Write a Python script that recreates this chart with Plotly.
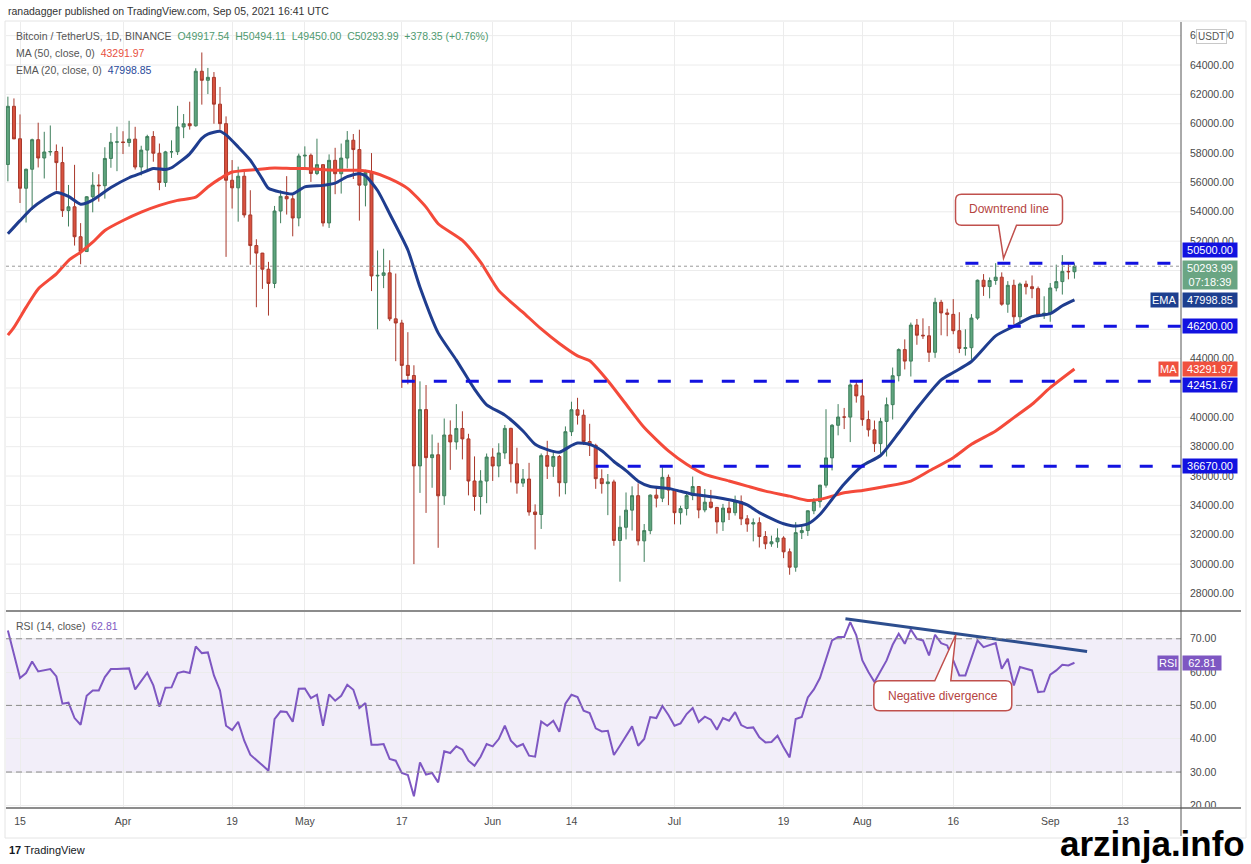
import pandas as pd
import plotly.graph_objects as go
from plotly.subplots import make_subplots

START = "2021-03-13"

# daily candles, Mar 13 .. Sep 05 2021 (BTC/USDT, Binance)
opens = [
    57221, 61188, 58976, 55605, 56900, 58913, 57665, 58075, 58108, 57351, 54083, 54341, 52303, 51293, 55025, 55817, 55778, 57635, 58747,
    58760, 58720, 58950, 57051, 58202, 59129, 57991, 56000, 58082, 58093, 59779, 60000, 59860, 63575, 62959, 63159, 61334, 60006, 56150, 55633,
    56425, 53787, 51701, 51187, 50089, 49121, 54054, 55050, 54885, 53580,
    57800, 57850, 56610, 57213, 53241, 57509, 56593, 57660, 58876, 58240, 55816, 56670, 49631, 49671, 49841, 46708, 46426, 43538, 42849,
    36690, 40527, 37253, 37449, 34655, 38796, 38324, 39241, 38530, 35663, 34606, 35658,
    37293, 36686, 37571, 39247, 36836, 35520, 35797, 33552, 33380, 37389, 36662, 37331, 35546, 39020, 40516, 40144, 38349, 38092, 35820,
    35483, 35600, 31608, 32509, 33678, 34663, 31584, 32283, 34700, 34494, 35911,
    35045, 33504, 33786, 34669, 35286, 33690, 34220, 33862, 32876, 33815, 33502, 34259, 33086, 32730, 32820, 31880, 31383, 31520, 31778,
    30839, 29790, 32144, 32287, 33634, 34258, 35381, 37237, 39457, 40019, 40016, 42206,
    41461, 39845, 39147, 38207, 39723, 40862, 42836, 44614, 43829, 46286, 45595, 45554, 44429, 47834, 47112, 47014, 45902, 44696, 44741,
    46760, 49339, 48905, 49321, 49547, 47707, 48993, 46852, 49078, 48898, 48767, 46970,
    47100, 48811, 49246, 49942, 49917.54,
]
highs = [
    61844, 61724, 60633, 56938, 58982, 60070, 59450, 59880, 58589, 58430, 55830, 57200, 53230, 55073, 56700, 56559, 58400, 59368, 59800,
    59490, 60200, 59791, 58500, 59250, 59495, 58650, 58153, 58869, 61220, 60659, 61500, 63777, 64854, 63800, 63520, 62506, 60499, 57526, 57076,
    56757, 55470, 52130, 51200, 50591, 54400, 55460, 56428, 55195, 57963,
    58458, 57972, 58981, 57214, 57911, 58360, 58650, 59500, 59300, 59592, 56862, 58000, 51367, 51483, 50700, 49795, 46643, 45800, 43546,
    42451, 42200, 38829, 38270, 39920, 39791, 40900, 40411, 38877, 37338, 36400, 37534,
    37896, 38231, 39476, 39289, 37925, 36480, 36900, 34069, 37534, 38400, 37690, 37436, 39380, 41064, 41330, 40527, 39560, 38202, 36457,
    36137, 35750, 33298, 34881, 35298, 35500, 32730, 34749, 35297, 36600, 36100,
    35057, 33977, 34945, 35967, 35293, 35118, 35059, 33900, 34100, 34262, 34666, 34679, 33338, 33114, 33185, 32249, 31940, 32435, 31899,
    31063, 32859, 32591, 33650, 34500, 35398, 40550, 39542, 40900, 40640, 42316, 42448,
    42599, 40459, 39780, 39969, 41350, 43392, 44700, 45310, 46454, 46700, 46743, 46218, 48144, 48000, 47400, 48053, 47160, 46000, 47033,
    49382, 49757, 49526, 50500, 49875, 49277, 49376, 49185, 49309, 49666, 48910, 48246,
    49150, 50400, 51052, 50558, 50494.11,
]
lows = [
    56078, 58966, 54600, 53271, 54123, 57023, 56270, 57820, 55450, 53650, 53000, 51700, 50428, 51280, 53966, 54691, 54900, 57000, 56769,
    57935, 58435, 56880, 56478, 56817, 57413, 55473, 55700, 57670, 57872, 59018, 59600, 59800, 61301, 62021, 60000, 59580, 50931, 54221, 53329,
    53605, 50400, 47500, 48750, 46930, 48800, 53222, 53813, 52330, 53013,
    57052, 56035, 56500, 53000, 52900, 55200, 55241, 56957, 56235, 53400, 54370, 48600, 46000, 48800, 46555, 43825, 42001, 42250, 30000,
    34850, 33488, 35200, 31111, 34031, 36419, 37800, 37134, 34684, 33632, 33379, 34153,
    35667, 35920, 37170, 35566, 34800, 35258, 33300, 31000, 32396, 35800, 35944, 34600, 34757, 38730, 39506, 38116, 37365, 35129, 34803,
    33336, 31251, 28805, 31683, 32286, 31275, 30151, 32040, 33862, 34225, 34017,
    32711, 32699, 33316, 34357, 33125, 33532, 33777, 32077, 32261, 33004, 33307, 32658, 32203, 31550, 31133, 31020, 31180, 31108, 30407,
    29278, 29482, 31708, 31924, 33401, 33851, 35205, 36383, 38772, 39200, 38313, 41000,
    39423, 38690, 37642, 37508, 37332, 39853, 42446, 43261, 42780, 44942, 45341, 43770, 44052, 45590, 45525, 45660, 44376, 44203, 43927,
    46644, 48273, 48102, 49030, 47600, 47122, 46315, 46361, 48370, 48110, 46862, 46700,
    46512, 48584, 48363, 49400, 49450.00,
]
closes = [
    61188, 58968, 55605, 56900, 58913, 57665, 58075, 58108, 57351, 54083, 54341, 52303, 51293, 55025, 55817, 55778, 57635, 58747, 58760,
    58720, 58950, 57051, 58202, 59129, 57991, 56000, 58082, 58093, 59779, 60000, 59860, 63575, 62959, 63160, 61334, 60007, 56150, 55633, 56425,
    53787, 51701, 51187, 50089, 49121, 54054, 55050, 54885, 53580, 57800,
    57850, 56610, 57213, 53241, 57509, 56593, 57660, 58876, 58240, 55816, 56670, 49631, 49671, 49841, 46708, 46426, 43538, 42849, 36690,
    40527, 37253, 37449, 34655, 38796, 38324, 39241, 38530, 35663, 34606, 35658, 37293,
    36686, 37571, 39247, 36836, 35520, 35797, 33552, 33380, 37389, 36662, 37331, 35546, 39020, 40516, 40144, 38349, 38092, 35820, 35483,
    35600, 31608, 32509, 33678, 34663, 31584, 32283, 34700, 34494, 35911, 35045,
    33504, 33786, 34669, 35286, 33690, 34220, 33862, 32876, 33815, 33502, 34259, 33086, 32730, 32820, 31880, 31383, 31520, 31778, 30839,
    29790, 32144, 32287, 33634, 34258, 35381, 37237, 39457, 40019, 40016, 42206, 41461,
    39845, 39147, 38207, 39723, 40862, 42836, 44614, 43829, 46286, 45595, 45554, 44429, 47834, 47112, 47014, 45902, 44696, 44741, 46760,
    49339, 48905, 49321, 49547, 47707, 48993, 46852, 49078, 48898, 48767, 46970, 47100,
    48811, 49246, 49942, 49917.54, 50293.99,
]

rsi = [
    72.5, 65.5, 58.2, 59.7, 63.2, 60.2, 60.6, 60.9, 58.7, 50.5, 50.8, 46.2, 44.2, 52.9, 54.5, 54.5, 58.5, 60.9, 60.9,
    60.9, 61.1, 54.8, 57.2, 59.8, 56.0, 49.6, 55.3, 55.4, 59.7, 60.2, 59.7, 67.7, 65.7, 65.9, 59.0, 54.5, 43.9, 42.6, 45.1,
    39.4, 35.2, 33.7, 32.0, 30.4, 45.9, 48.2, 48.0, 45.1, 55.0,
    55.1, 52.2, 53.2, 43.9, 53.3, 51.4, 52.9, 56.2, 54.7, 49.2, 50.7, 38.2, 38.2, 38.4, 33.9, 33.4, 29.7, 29.1, 22.7,
    32.9, 29.2, 29.7, 26.9, 36.2, 35.7, 37.7, 36.7, 33.4, 31.9, 34.6, 38.4,
    37.7, 39.9, 43.9, 39.4, 37.6, 38.4, 34.9, 34.6, 45.2, 43.9, 45.4, 42.1, 50.5, 53.2, 52.5, 48.4, 47.7, 43.1, 42.2,
    42.4, 35.1, 37.9, 40.9, 43.7, 37.9, 39.9, 46.5, 46.2, 49.8, 47.1,
    43.9, 44.6, 47.4, 49.2, 45.0, 46.6, 45.7, 42.7, 46.2, 45.4, 48.0, 44.1, 43.2, 43.4, 40.4, 38.9, 39.0, 40.9, 37.4,
    34.4, 45.9, 46.5, 52.4, 54.8, 58.2, 64.0, 69.5, 70.5, 70.5, 75.0, 71.0,
    63.5, 60.0, 57.0, 60.2, 63.5, 68.2, 71.5, 68.5, 72.8, 70.0, 69.5, 65.0, 71.2, 68.7, 68.0, 63.5, 59.0, 59.0, 64.2,
    69.5, 67.5, 68.0, 68.7, 61.0, 64.0, 56.0, 61.5, 61.0, 60.5, 54.0, 54.2,
    59.2, 60.5, 62.2, 62.0, 62.81,
]

ema_dates = [
    "2021-03-13", "2021-03-15", "2021-03-17", "2021-03-19", "2021-03-21", "2021-03-23", "2021-03-25", "2021-03-27", "2021-03-30",
    "2021-04-02", "2021-04-04", "2021-04-06", "2021-04-08", "2021-04-09", "2021-04-12", "2021-04-14", "2021-04-15", "2021-04-17",
    "2021-04-18", "2021-04-20", "2021-04-22", "2021-04-24", "2021-04-25", "2021-04-27", "2021-04-29", "2021-05-01", "2021-05-04",
    "2021-05-06", "2021-05-08", "2021-05-10", "2021-05-11", "2021-05-13", "2021-05-15", "2021-05-18", "2021-05-20", "2021-05-23",
    "2021-05-26", "2021-05-29", "2021-05-31", "2021-06-03", "2021-06-06", "2021-06-08", "2021-06-10", "2021-06-12", "2021-06-14",
    "2021-06-15", "2021-06-17", "2021-06-19", "2021-06-21", "2021-06-23", "2021-06-25", "2021-06-27", "2021-06-30", "2021-07-02",
    "2021-07-04", "2021-07-06", "2021-07-08", "2021-07-11", "2021-07-13", "2021-07-15", "2021-07-17", "2021-07-19", "2021-07-21",
    "2021-07-23", "2021-07-25", "2021-07-27", "2021-07-29", "2021-08-01", "2021-08-04", "2021-08-07", "2021-08-10", "2021-08-14",
    "2021-08-16", "2021-08-19", "2021-08-23", "2021-08-26", "2021-08-29", "2021-09-01", "2021-09-03", "2021-09-05",
]
ema_vals = [
    52500, 53400, 54250, 54850, 55320, 55050, 54520, 54800, 55650,
    56320, 56630, 56950, 56880, 57000, 57950, 59000, 59300, 59480,
    59240, 58420, 57520, 56230, 55600, 55340, 55220, 55700, 55800,
    55950, 56390, 56600, 56450, 55450, 53870, 51400, 48860, 45750,
    43900, 41920, 40850, 40150, 39070, 38160, 37800, 37620, 38080,
    38250, 38160, 37730, 36990, 36370, 35650, 35290, 35160, 34960,
    34760, 34650, 34540, 34300, 34030, 33510, 33100, 32750, 32590,
    32740, 33380, 34420, 35450, 36700, 37400, 38950, 40600, 42550,
    43050, 43800, 45550, 46200, 46850, 47060, 47600, 47998.85,
]
ma_dates = [
    "2021-03-13", "2021-03-14", "2021-03-16", "2021-03-18", "2021-03-21", "2021-03-23", "2021-03-25", "2021-03-27", "2021-03-29",
    "2021-04-01", "2021-04-04", "2021-04-07", "2021-04-10", "2021-04-13", "2021-04-15", "2021-04-17", "2021-04-19", "2021-04-23",
    "2021-04-26", "2021-04-29", "2021-05-01", "2021-05-06", "2021-05-10", "2021-05-12", "2021-05-15", "2021-05-18", "2021-05-21",
    "2021-05-23", "2021-05-27", "2021-05-30", "2021-06-02", "2021-06-06", "2021-06-09", "2021-06-12", "2021-06-15", "2021-06-17",
    "2021-06-20", "2021-06-23", "2021-06-26", "2021-06-30", "2021-07-03", "2021-07-06", "2021-07-10", "2021-07-13", "2021-07-16",
    "2021-07-20", "2021-07-23", "2021-07-25", "2021-07-27", "2021-07-29", "2021-08-01", "2021-08-05", "2021-08-09", "2021-08-12",
    "2021-08-16", "2021-08-19", "2021-08-23", "2021-08-26", "2021-08-29", "2021-09-01", "2021-09-05",
]
ma_vals = [
    45600, 46130, 47490, 48750, 49770, 50680, 51250, 51930, 52730,
    53410, 53980, 54440, 54780, 55000, 55690, 56260, 56710, 56880,
    56990, 56950, 56950, 56830, 56830, 56710, 56260, 55580, 54320,
    53190, 52050, 50570, 48630, 47150, 46020, 45030, 44190, 43850,
    42490, 40890, 39300, 37710, 36800, 36110, 35660, 35310, 34970,
    34630, 34340, 34410, 34630, 34860, 35020, 35300, 35660, 36340,
    37250, 38160, 39070, 39980, 40890, 42020, 43291.97,
]

# horizontal levels drawn by the author
level_prices = [50500.00, 46200.00, 42451.67, 36670.00]
level_starts = ["2021-08-18", "2021-08-25", "2021-05-17", "2021-06-18"]

# RSI trend line
trend_dates = ["2021-07-29 05:00", "2021-09-07 02:00"]
trend_rsi = [76.0, 66.2]

tick_dates = ["2021-03-15", "2021-04-01", "2021-04-19", "2021-05-01", "2021-05-17", "2021-06-01", "2021-06-14",
              "2021-07-01", "2021-07-19", "2021-08-01", "2021-08-16", "2021-09-01", "2021-09-13"]
tick_text = ["15", "Apr", "19", "May", "17", "Jun", "14", "Jul", "19", "Aug", "16", "Sep", "13"]

# price labels that are not hidden behind the tag boxes on the right
price_ticks = [28000, 30000, 32000, 34000, 36000, 38000, 40000, 44000, 52000, 54000, 56000, 58000, 60000, 62000, 64000, 66000]
price_grid = list(range(28000, 66001, 2000))
rsi_ticks = [20, 30, 40, 50, 60, 70]

FONT = "Liberation Sans"
BLUE = "#1212e0"
NAVY = "#1f3d8f"
RED = "#f44a3a"
PURPLE = "#7e57c2"
UP = "#5fa57e"
DOWN = "#d9523f"

W, H = 1251, 864
L, R, T, B = 6, 1181, 22, 808


def px(x):
    return (x - L) / (R - L)


def py(y):
    return (B - y) / (B - T)


days = pd.date_range(START, periods=len(closes), freq="D")
x_start = pd.Timestamp(START) - pd.Timedelta(hours=7.5)
x_end = pd.Timestamp(START) + pd.Timedelta(days=193.58)

fig = make_subplots(rows=2, cols=1, shared_xaxes=True, vertical_spacing=0.002)

# horizontal grid of the price pane (every 2000, labelled or not)
for g in price_grid:
    fig.add_shape(type="line", xref="paper", x0=0, x1=1, yref="y", y0=g, y1=g,
                  line=dict(color="#ececec", width=1), layer="below")

fig.add_trace(go.Candlestick(
    x=days, open=opens, high=highs, low=lows, close=closes,
    increasing=dict(line=dict(color="#3f7f5c", width=1), fillcolor=UP),
    decreasing=dict(line=dict(color="#a8382b", width=1), fillcolor=DOWN),
    whiskerwidth=0, hoverinfo="skip", showlegend=False,
), row=1, col=1)

fig.add_trace(go.Scatter(x=ma_dates, y=ma_vals, mode="lines", line=dict(color=RED, width=3, shape="spline", smoothing=0.6),
                         hoverinfo="skip", showlegend=False), row=1, col=1)
fig.add_trace(go.Scatter(x=ema_dates, y=ema_vals, mode="lines", line=dict(color=NAVY, width=3, shape="spline", smoothing=0.6),
                         hoverinfo="skip", showlegend=False), row=1, col=1)

# current price dotted line
fig.add_trace(go.Scatter(x=[x_start, x_end], y=[closes[-1], closes[-1]], mode="lines",
                         line=dict(color="#9a9a9a", width=1, dash="dot"), hoverinfo="skip", showlegend=False), row=1, col=1)

for lvl, start in zip(level_prices, level_starts):
    fig.add_trace(go.Scatter(x=[start, x_end], y=[lvl, lvl], mode="lines",
                             line=dict(color=BLUE, width=3, dash="13px,19px"), hoverinfo="skip", showlegend=False),
                  row=1, col=1)

# RSI pane
fig.add_shape(type="rect", xref="paper", x0=0, x1=1, yref="y2", y0=30, y1=70,
              fillcolor="rgba(126,87,194,0.10)", line=dict(width=0), layer="below")
for v in (30, 50, 70):
    fig.add_shape(type="line", xref="paper", x0=0, x1=1, yref="y2", y0=v, y1=v,
                  line=dict(color="#8a8a8a", width=1, dash="6px,4px"))
fig.add_trace(go.Scatter(x=days, y=rsi, mode="lines", line=dict(color=PURPLE, width=2),
                         hoverinfo="skip", showlegend=False), row=2, col=1)
fig.add_trace(go.Scatter(x=trend_dates, y=trend_rsi, mode="lines", line=dict(color="#2d4e8e", width=3),
                         hoverinfo="skip", showlegend=False), row=2, col=1)


# callout bubbles (pixel paths anchored to data points)
def bubble(x0, x1, y0, y1, b0, b1, r=6, up=False):
    if not up:
        # box above the tip, tail goes down from the bottom edge
        return (f"M {x0 + r},{y1} L {x1 - r},{y1} Q {x1},{y1} {x1},{y1 - r} L {x1},{y0 + r} Q {x1},{y0} {x1 - r},{y0} "
                f"L {b1},{y0} L 0,0 L {b0},{y0} L {x0 + r},{y0} Q {x0},{y0} {x0},{y0 + r} L {x0},{y1 - r} Q {x0},{y1} {x0 + r},{y1} Z")
    return (f"M {x0 + r},{y0} L {b0},{y0} L 0,0 L {b1},{y0} L {x1 - r},{y0} Q {x1},{y0} {x1},{y0 - r} L {x1},{y1 + r} "
            f"Q {x1},{y1} {x1 - r},{y1} L {x0 + r},{y1} Q {x0},{y1} {x0},{y1 + r} L {x0},{y0 - r} Q {x0},{y0} {x0 + r},{y0} Z")


fig.add_shape(type="path", xref="x", yref="y", xsizemode="pixel", ysizemode="pixel",
              xanchor="2021-08-24 07:00", yanchor=50830,
              path=bubble(-48, 59, 33, 64, -5, 13),
              line=dict(color="#c0504d", width=1.5), fillcolor="white")
fig.add_annotation(x="2021-08-24 07:00", y=50830, xref="x", yref="y", xshift=5, yshift=49, text="Downtrend line",
                   showarrow=False, font=dict(family=FONT, size=12, color="#b5443f"))

fig.add_shape(type="path", xref="x2", yref="y2", xsizemode="pixel", ysizemode="pixel",
              xanchor="2021-08-16 10:00", yanchor=71.2,
              path=bubble(-82, 56, -46, -76, -21, -5, up=True),
              line=dict(color="#c0504d", width=1.5), fillcolor="white")
fig.add_annotation(x="2021-08-16 10:00", y=71.2, xref="x2", yref="y2", xshift=-13, yshift=-61, text="Negative divergence",
                   showarrow=False, font=dict(family=FONT, size=12, color="#b5443f"))

# frame lines
fig.add_shape(type="line", xref="paper", yref="paper", x0=0, x1=px(1241), y0=py(611), y1=py(611),
              line=dict(color="#8c8c8c", width=2))
fig.add_shape(type="line", xref="paper", yref="paper", x0=0, x1=px(1241), y0=0, y1=0,
              line=dict(color="#8c8c8c", width=2))
fig.add_shape(type="line", xref="paper", yref="paper", x0=1, x1=1, y0=py(836), y1=1,
              line=dict(color="#555", width=1))
fig.add_shape(type="rect", xref="paper", yref="paper", x0=px(5), x1=px(1246), y0=py(838), y1=py(21),
              line=dict(color="#e4e4e4", width=1))


# axis side labels
def side_label(text, yref, yval, bg, yshift=0, width=52):
    fig.add_annotation(xref="paper", x=1, xanchor="left", xshift=1, yref=yref, y=yval, yanchor="middle", yshift=yshift,
                       text=text, showarrow=False, bgcolor=bg, width=width, borderpad=1,
                       font=dict(family=FONT, size=11, color="white"), align="center")


def tag_label(text, yref, yval, bg):
    fig.add_annotation(xref="paper", x=1, xanchor="right", xshift=-2, yref=yref, y=yval, yanchor="middle",
                       text=text, showarrow=False, bgcolor=bg, borderpad=1,
                       font=dict(family=FONT, size=11, color="white"))


side_label("50500.00", "y", level_prices[0], BLUE, yshift=13)
side_label("50293.99<br>07:18:39", "y", closes[-1], "#6aa583", yshift=-9)
side_label("47998.85", "y", ema_vals[-1], "#1d3f8f")
tag_label("EMA", "y", ema_vals[-1], "#1d3f8f")
side_label("46200.00", "y", level_prices[1], BLUE)
side_label("43291.97", "y", ma_vals[-1], "#f0513e")
tag_label("MA", "y", ma_vals[-1], "#f0513e")
side_label("42451.67", "y", level_prices[2], BLUE, yshift=-4)
side_label("36670.00", "y", level_prices[3], BLUE)
side_label("62.81", "y2", rsi[-1], PURPLE, width=36)
tag_label("RSI", "y2", rsi[-1], PURPLE)

fig.add_annotation(xref="paper", yref="paper", x=px(1211), y=py(37), xanchor="center", yanchor="middle",
                   text="USDT", showarrow=False,
                   bgcolor="white", bordercolor="#c8c8c8", borderwidth=1, borderpad=1,
                   font=dict(family=FONT, size=10, color="#555"))


# header / legends
def text_at(x, y, text, size=10.5, color="#4a4a4a"):
    fig.add_annotation(xref="paper", yref="paper", x=px(x), y=py(y), xanchor="left", yanchor="middle",
                       text=text, showarrow=False, font=dict(family=FONT, size=size, color=color))


text_at(6, 11, "ranadagger published on TradingView.com, Sep 05, 2021 16:41 UTC", color="#333")
text_at(14, 36, "Bitcoin / TetherUS, 1D, BINANCE  <span style='color:#4f9a70'>O49917.54  H50494.11  L49450.00  "
                "C50293.99  +378.35 (+0.76%)</span>", color="#555")
text_at(14, 53, "MA (50, close, 0)  <span style='color:#e8503e'>43291.97</span>", color="#555")
text_at(14, 70, "EMA (20, close, 0)  <span style='color:#2a4a9a'>47998.85</span>", color="#555")
text_at(14, 626, "RSI (14, close)  <span style='color:#7e57c2'>62.81</span>", color="#555")
text_at(7, 850, "<b>17</b> TradingView", size=11, color="#131722")

fig.add_annotation(xref="paper", yref="paper", x=px(1152), y=py(843), xanchor="center", yanchor="middle",
                   text="<b>arzinja.info</b>", showarrow=False,
                   font=dict(family=FONT, size=35, color="black"))

axis_font = dict(family=FONT, size=10.5, color="#4a4a4a")
fig.update_layout(
    width=W, height=H,
    margin=dict(l=L, r=W - R, t=T, b=H - B),
    paper_bgcolor="white", plot_bgcolor="white",
    hovermode=False, showlegend=False,
    xaxis=dict(range=[x_start, x_end], rangeslider=dict(visible=False), showticklabels=False,
               tickvals=tick_dates, showgrid=True, gridcolor="#ececec", zeroline=False, ticks=""),
    xaxis2=dict(range=[x_start, x_end], tickvals=tick_dates, ticktext=tick_text, showgrid=True, gridcolor="#ececec",
                zeroline=False, ticks="", tickfont=axis_font, ticklabelstandoff=5),
    yaxis=dict(domain=[py(611) + 0.001, 1], range=[26860, 66930], side="right", tickvals=price_ticks,
               ticktext=[f"{v:.2f}" for v in price_ticks], showgrid=False, zeroline=False,
               ticks="", tickfont=axis_font, ticklabelstandoff=8),
    yaxis2=dict(domain=[0, py(611) - 0.001], range=[19.2, 78.1], side="right", tickvals=rsi_ticks,
                ticktext=[f"{v:.2f}" for v in rsi_ticks], showgrid=True, gridcolor="#ececec", zeroline=False,
                ticks="", tickfont=axis_font, ticklabelstandoff=8),
)

fig.write_html("out.html", config={"displayModeBar": False},
               post_script="document.body.style.margin='0';")
